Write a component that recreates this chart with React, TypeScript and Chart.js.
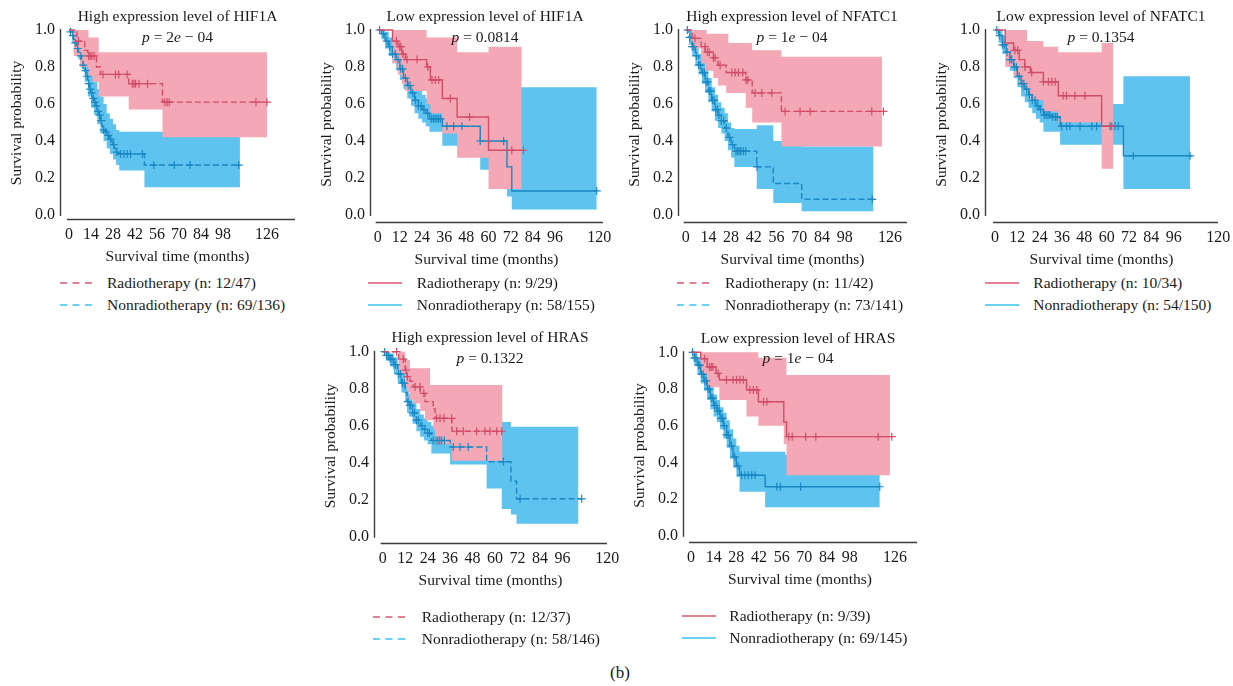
import React, { useEffect, useRef } from 'react';
import { Chart, registerables } from 'chart.js';

Chart.register(...registerables);

// ---------------- Data ----------------
const yTicks = [0, 0.2, 0.4, 0.6, 0.8, 1.0];
const xTicks14 = [0, 14, 28, 42, 56, 70, 84, 98, 126];
const xTicks12 = [0, 12, 24, 36, 48, 60, 72, 84, 96, 120];

const titles = [
  'High expression level of HIF1A',
  'Low expression level of HIF1A',
  'High expression level of NFATC1',
  'Low expression level of NFATC1',
  'High expression level of HRAS',
  'Low expression level of HRAS',
];
const pValues = ['2e − 04', '0.0814', '1e − 04', '0.1354', '0.1322', '1e − 04'];
const radioLabels = [
  'Radiotherapy (n: 12/47)',
  'Radiotherapy (n: 9/29)',
  'Radiotherapy (n: 11/42)',
  'Radiotherapy (n: 10/34)',
  'Radiotherapy (n: 12/37)',
  'Radiotherapy (n: 9/39)',
];
const nonRadioLabels = [
  'Nonradiotherapy (n: 69/136)',
  'Nonradiotherapy (n: 58/155)',
  'Nonradiotherapy (n: 73/141)',
  'Nonradiotherapy (n: 54/150)',
  'Nonradiotherapy (n: 58/146)',
  'Nonradiotherapy (n: 69/145)',
];
const dashedPanels = [true, false, true, false, true, false];

// Panel 1: High HIF1A
const p1RedT = [0, 5, 10, 12, 17.5, 20, 38, 59.5, 126];
const p1RedS = [1, 0.94, 0.89, 0.86, 0.8, 0.76, 0.71, 0.61, 0.61];
const p1RedCens = [6, 12.5, 13.5, 14.6, 16, 21.6, 29.6, 31.7, 37, 40.3, 41.4, 42.4, 44.6, 50, 61, 62.5, 63.8, 119, 126];
const p1RedBandT = [0, 3, 7, 12.4, 15, 18.9, 38, 59.5, 126];
const p1RedBandHi = [1, 1, 1, 0.96, 0.96, 0.88, 0.88, 0.88, 0.88];
const p1RedBandLo = [1, 0.86, 0.8, 0.75, 0.72, 0.64, 0.57, 0.42, 0.42];
const p1BlueT = [0, 1, 2, 3, 4, 5, 6, 7, 8, 9, 10, 11, 12, 13, 14, 15, 16, 17, 18, 19, 20, 21, 22, 23, 24, 25, 26, 27, 28, 29, 30, 31, 48, 108.8];
const p1BlueS = [1, 0.99, 0.97, 0.95, 0.93, 0.9, 0.88, 0.86, 0.83, 0.81, 0.78, 0.75, 0.71, 0.68, 0.66, 0.63, 0.61, 0.59, 0.56, 0.54, 0.51, 0.48, 0.46, 0.45, 0.44, 0.43, 0.41, 0.4, 0.38, 0.36, 0.34, 0.33, 0.27, 0.27];
const p1BlueCens = [1, 2.5, 4, 5.5, 7.5, 9, 10.5, 11.5, 12.5, 13.5, 14.5, 15.5, 16.5, 17.5, 18.5, 19.5, 20.5, 22, 23.5, 25, 26.5, 28.5, 30.5, 32.8, 35, 37, 39.2, 46.7, 54, 67, 77, 108];
const p1BlueBandT = [0, 2, 4, 6, 8, 10, 12, 14, 16, 18, 20, 22, 24, 26, 28, 30, 32, 48, 108.8];
const p1BlueBandHi = [1, 1, 0.97, 0.94, 0.9, 0.86, 0.8, 0.76, 0.72, 0.68, 0.64, 0.6, 0.55, 0.52, 0.49, 0.46, 0.45, 0.45, 0.45];
const p1BlueBandLo = [1, 0.93, 0.89, 0.84, 0.79, 0.72, 0.64, 0.58, 0.54, 0.49, 0.44, 0.4, 0.36, 0.33, 0.3, 0.27, 0.24, 0.15, 0.15];

// Panel 2: Low HIF1A
const p2RedT = [0, 8, 11, 13, 15, 26.5, 28.5, 35, 43, 60, 79];
const p2RedS = [1, 0.94, 0.91, 0.87, 0.84, 0.8, 0.73, 0.63, 0.53, 0.35, 0.35];
const p2RedCens = [10.1, 11.9, 12.6, 13.7, 15.9, 21.3, 27.1, 29.4, 31.2, 33, 39.3, 49.7, 72.6, 78.9];
const p2RedBandT = [0, 8, 11, 13, 15, 26.5, 28.5, 35, 43, 60, 78];
const p2RedBandHi = [1, 1, 1, 1, 1, 0.96, 0.96, 0.96, 0.88, 0.91, 0.91];
const p2RedBandLo = [1, 0.82, 0.76, 0.71, 0.67, 0.6, 0.55, 0.44, 0.31, 0.14, 0.14];
const p2BlueT = [0, 2, 4, 6, 8, 10, 12, 14, 16, 18, 20, 22, 24, 26, 28, 35, 55.5, 70, 72.6, 118.6];
const p2BlueS = [1, 0.98, 0.94, 0.91, 0.87, 0.84, 0.79, 0.74, 0.7, 0.66, 0.62, 0.59, 0.57, 0.55, 0.52, 0.48, 0.4, 0.26, 0.13, 0.13];
const p2BlueCens = [1, 3, 5, 6.5, 8, 9.5, 11, 12.5, 13.5, 15, 16.5, 17.5, 19, 20.5, 22, 23.5, 25, 27, 29, 30, 31, 32, 33, 34, 37.5, 41.1, 45.6, 55.5, 68.2, 118.6];
const p2BlueBandT = [0, 2, 4, 6, 8, 10, 12, 14, 16, 18, 20, 22, 24, 26, 28, 35, 55.5, 70, 72.6, 118.6];
const p2BlueBandHi = [1, 1, 0.99, 0.96, 0.93, 0.9, 0.86, 0.81, 0.77, 0.73, 0.7, 0.67, 0.65, 0.63, 0.61, 0.58, 0.55, 0.5, 0.69, 0.69];
const p2BlueBandLo = [1, 0.95, 0.9, 0.86, 0.82, 0.78, 0.73, 0.68, 0.63, 0.59, 0.55, 0.52, 0.5, 0.48, 0.45, 0.375, 0.245, 0.1, 0.03, 0.03];

// Panel 3: High NFATC1
const p3RedT = [0, 4, 9.5, 12, 17, 20, 25, 37, 41, 59, 122];
const p3RedS = [1, 0.955, 0.91, 0.88, 0.85, 0.81, 0.77, 0.73, 0.66, 0.56, 0.56];
const p3RedCens = [5.7, 11.9, 13.4, 14.6, 17.1, 18.1, 21.2, 28.4, 30.5, 32.5, 35.2, 37.2, 38.3, 42.8, 46.9, 53.1, 61.3, 70.5, 76.7, 114.7, 121.9];
const p3RedBandT = [0, 4, 9.5, 12, 13, 17, 20, 25, 26.3, 37, 41, 59, 121];
const p3RedBandHi = [1, 1, 1, 1, 0.98, 0.98, 0.98, 0.98, 0.93, 0.93, 0.89, 0.855, 0.855];
const p3RedBandLo = [1, 0.9, 0.82, 0.78, 0.78, 0.74, 0.7, 0.66, 0.66, 0.58, 0.5, 0.37, 0.37];
const p3BlueT = [0, 2, 4, 6, 8, 10, 12, 14, 16, 18, 20, 22, 24, 26, 28, 30, 43.8, 54, 71.5, 115.8];
const p3BlueS = [1, 0.96, 0.91, 0.86, 0.81, 0.77, 0.72, 0.67, 0.62, 0.57, 0.54, 0.51, 0.47, 0.42, 0.38, 0.345, 0.26, 0.17, 0.085, 0.085];
const p3BlueCens = [1, 2.5, 4, 5, 6.5, 8, 9, 10.5, 11.5, 12.5, 13.5, 14.5, 15.5, 16.5, 17.5, 18.5, 19.5, 20.5, 22, 23.5, 25, 27, 29, 31, 32, 33, 34, 35.5, 37, 44, 115];
const p3BlueBandT = [0, 2, 4, 6, 8, 10, 12, 14, 16, 18, 20, 22, 24, 26, 28, 30, 43.8, 54, 71.5, 115.8];
const p3BlueBandHi = [1, 1, 0.96, 0.92, 0.87, 0.83, 0.79, 0.74, 0.69, 0.65, 0.61, 0.58, 0.55, 0.5, 0.47, 0.465, 0.485, 0.4, 0.37, 0.37];
const p3BlueBandLo = [1, 0.92, 0.86, 0.81, 0.76, 0.71, 0.66, 0.61, 0.56, 0.51, 0.47, 0.44, 0.4, 0.35, 0.31, 0.26, 0.14, 0.065, 0.02, 0.02];

// Panel 4: Low NFATC1
const p4RedT = [0, 5.5, 10, 13, 16, 19, 26, 34, 57.3, 63.6];
const p4RedS = [1, 0.93, 0.89, 0.84, 0.8, 0.77, 0.72, 0.645, 0.48, 0.48];
const p4RedCens = [10.7, 12.2, 16.1, 19.7, 26, 28.7, 30.5, 32.3, 36.6, 38.4, 42.9, 48.3, 62.7];
const p4RedBandT = [0, 5.5, 10, 13, 16, 17.2, 19, 26, 34, 57.3, 63.6];
const p4RedBandHi = [1, 1, 1, 1, 1, 0.94, 0.94, 0.91, 0.88, 0.93, 0.93];
const p4RedBandLo = [1, 0.8, 0.75, 0.7, 0.66, 0.66, 0.62, 0.56, 0.5, 0.25, 0.25];
const p4BlueT = [0, 2, 4, 6, 8, 10, 12, 14, 16, 18, 20, 22, 24, 26, 30, 35, 69, 105.7];
const p4BlueS = [1, 0.97, 0.92, 0.88, 0.84, 0.8, 0.75, 0.71, 0.68, 0.65, 0.62, 0.59, 0.57, 0.54, 0.53, 0.48, 0.32, 0.32];
const p4BlueCens = [1, 2.5, 4, 5, 6.5, 8, 9, 10.5, 11.5, 13, 14.5, 15.5, 17, 18.5, 20, 21.5, 23, 24.5, 26.5, 27.5, 28.5, 29.5, 31, 32.5, 33.5, 35.8, 38.5, 40.3, 45.7, 52, 54.6, 61.8, 64.5, 66.3, 74.3, 104.8];
const p4BlueBandT = [0, 2, 4, 6, 8, 10, 12, 14, 16, 18, 20, 22, 24, 26, 30, 35, 69, 104.8];
const p4BlueBandHi = [1, 1, 0.97, 0.93, 0.9, 0.86, 0.82, 0.78, 0.75, 0.72, 0.69, 0.67, 0.65, 0.63, 0.62, 0.6, 0.75, 0.75];
const p4BlueBandLo = [1, 0.93, 0.87, 0.83, 0.78, 0.74, 0.69, 0.64, 0.61, 0.58, 0.55, 0.52, 0.5, 0.45, 0.45, 0.38, 0.14, 0.14];

// Panel 5: High HRAS
const p5RedT = [0, 8.5, 12, 13, 14.6, 16.3, 20, 22.6, 27, 28, 37, 64];
const p5RedS = [1, 0.96, 0.9, 0.865, 0.84, 0.81, 0.775, 0.73, 0.69, 0.64, 0.57, 0.57];
const p5RedCens = [7.4, 11, 12.4, 13.2, 17.3, 19.9, 22, 28.8, 30.6, 32.7, 36.8, 39.5, 43.1, 50.2, 54.6, 57.3, 60.9, 63.6];
const p5RedBandT = [0, 8.5, 12, 13, 14.6, 16.3, 20, 22.6, 25.3, 27, 28, 37, 64];
const p5RedBandHi = [1, 1, 0.955, 0.955, 0.91, 0.91, 0.91, 0.91, 0.82, 0.82, 0.82, 0.82, 0.82];
const p5RedBandLo = [1, 0.88, 0.81, 0.78, 0.74, 0.72, 0.68, 0.63, 0.63, 0.58, 0.5, 0.41, 0.41];
const p5BlueT = [0, 2, 4, 6, 8, 10, 12, 13, 14, 16, 18, 20, 22, 24, 26, 36, 55.5, 68.5, 71.5, 106.3];
const p5BlueS = [1, 0.98, 0.96, 0.93, 0.88, 0.83, 0.78, 0.73, 0.71, 0.67, 0.63, 0.6, 0.58, 0.56, 0.52, 0.485, 0.405, 0.3, 0.205, 0.205];
const p5BlueCens = [1, 2, 3, 4, 5, 6, 7, 8.5, 9.5, 10.5, 11.5, 13.5, 14.5, 15, 16, 17, 18, 19, 21, 22.5, 24, 25, 27, 28.5, 29.5, 30.5, 31.5, 33, 37.7, 41.3, 45.7, 64.5, 73.4, 106.3];
const p5BlueBandT = [0, 2, 4, 6, 8, 10, 12, 13, 14, 16, 18, 20, 22, 24, 26, 36, 55.5, 63.6, 68.5, 71.5, 104.6];
const p5BlueBandHi = [1, 1, 0.99, 0.97, 0.93, 0.88, 0.83, 0.79, 0.77, 0.73, 0.69, 0.66, 0.64, 0.62, 0.6, 0.56, 0.62, 0.62, 0.595, 0.595, 0.595];
const p5BlueBandLo = [1, 0.95, 0.92, 0.88, 0.83, 0.78, 0.73, 0.67, 0.65, 0.61, 0.57, 0.54, 0.52, 0.5, 0.45, 0.39, 0.26, 0.15, 0.12, 0.07, 0.07];

// Panel 6: Low HRAS
const p6RedT = [0, 6, 10, 15.5, 17.5, 34.3, 41.6, 57.3, 59, 124];
const p6RedS = [1, 0.965, 0.92, 0.885, 0.85, 0.795, 0.73, 0.62, 0.54, 0.54];
const p6RedCens = [8.3, 11.4, 12.5, 13.5, 16.7, 21.9, 26, 28.1, 30.2, 32.3, 36.4, 38.5, 40.6, 44.8, 46.9, 60.4, 62.5, 70.8, 77.1, 115.6, 124];
const p6RedBandT = [0, 6, 10, 17.5, 34.3, 41.6, 57.3, 59, 122.9];
const p6RedBandHi = [1, 1, 1, 1, 1, 0.97, 0.97, 0.876, 0.876];
const p6RedBandLo = [1, 0.88, 0.81, 0.74, 0.65, 0.6, 0.5, 0.33, 0.33];
const p6BlueT = [0, 2, 4, 6, 8, 10, 12, 14, 16, 18, 20, 22, 24, 26, 28, 30, 45.8, 116.6];
const p6BlueS = [1, 0.97, 0.93, 0.88, 0.845, 0.8, 0.75, 0.71, 0.68, 0.64, 0.6, 0.55, 0.49, 0.43, 0.38, 0.33, 0.267, 0.267];
const p6BlueCens = [1, 2, 3, 4.5, 5.5, 6.5, 7.5, 8.5, 9.5, 10.5, 11.5, 12.5, 13.5, 14.5, 15.5, 16.5, 17.5, 18.5, 19.5, 20.5, 22, 23, 25, 27, 29, 31.2, 33.3, 35.4, 37.5, 39.6, 53, 55.2, 67.7, 116.6];
const p6BlueBandT = [0, 2, 4, 6, 8, 10, 12, 14, 16, 18, 20, 22, 24, 26, 28, 30, 45.8, 58.3, 116.6];
const p6BlueBandHi = [1, 1, 0.97, 0.93, 0.9, 0.86, 0.81, 0.77, 0.74, 0.7, 0.67, 0.63, 0.58, 0.53, 0.49, 0.458, 0.458, 0.44, 0.44];
const p6BlueBandLo = [1, 0.93, 0.88, 0.83, 0.79, 0.74, 0.69, 0.65, 0.62, 0.58, 0.53, 0.48, 0.42, 0.37, 0.32, 0.24, 0.155, 0.155, 0.155];

// ---------------- Styles ----------------
const FONT = '"Liberation Serif", "Times New Roman", serif';
const TEXT = '#1a1a1a';
const RED_LINE = '#d24d68';
const BLUE_LINE = '#1a88c2';
const PINK_FILL = '#f4a7b4';
const BLUE_FILL = '#5ec3ee';
const LEG_RED = '#d9586f';
const LEG_BLUE = '#36c4f2';
const AXIS = '#3c3c3c';

type Series = { t: number[]; s: number[]; cens: number[]; bt: number[]; hi: number[]; lo: number[] };
type Layout = {
  yAxisX: number; t0X: number; s: number; xEndX: number; y1: number; y0: number; xAxisY: number;
  titleX: number; titleY: number; pY: number; legLineX: number; legTextX: number; legY: number[]; xTicks: number[];
};

const seriesRed: Series[] = [
  { t: p1RedT, s: p1RedS, cens: p1RedCens, bt: p1RedBandT, hi: p1RedBandHi, lo: p1RedBandLo },
  { t: p2RedT, s: p2RedS, cens: p2RedCens, bt: p2RedBandT, hi: p2RedBandHi, lo: p2RedBandLo },
  { t: p3RedT, s: p3RedS, cens: p3RedCens, bt: p3RedBandT, hi: p3RedBandHi, lo: p3RedBandLo },
  { t: p4RedT, s: p4RedS, cens: p4RedCens, bt: p4RedBandT, hi: p4RedBandHi, lo: p4RedBandLo },
  { t: p5RedT, s: p5RedS, cens: p5RedCens, bt: p5RedBandT, hi: p5RedBandHi, lo: p5RedBandLo },
  { t: p6RedT, s: p6RedS, cens: p6RedCens, bt: p6RedBandT, hi: p6RedBandHi, lo: p6RedBandLo },
];
const seriesBlue: Series[] = [
  { t: p1BlueT, s: p1BlueS, cens: p1BlueCens, bt: p1BlueBandT, hi: p1BlueBandHi, lo: p1BlueBandLo },
  { t: p2BlueT, s: p2BlueS, cens: p2BlueCens, bt: p2BlueBandT, hi: p2BlueBandHi, lo: p2BlueBandLo },
  { t: p3BlueT, s: p3BlueS, cens: p3BlueCens, bt: p3BlueBandT, hi: p3BlueBandHi, lo: p3BlueBandLo },
  { t: p4BlueT, s: p4BlueS, cens: p4BlueCens, bt: p4BlueBandT, hi: p4BlueBandHi, lo: p4BlueBandLo },
  { t: p5BlueT, s: p5BlueS, cens: p5BlueCens, bt: p5BlueBandT, hi: p5BlueBandHi, lo: p5BlueBandLo },
  { t: p6BlueT, s: p6BlueS, cens: p6BlueCens, bt: p6BlueBandT, hi: p6BlueBandHi, lo: p6BlueBandLo },
];

const layouts: Layout[] = [
  { yAxisX: 60, t0X: 69, s: 1.571, xEndX: 295, y1: 30, y0: 215, xAxisY: 220, titleX: 177.5, titleY: 15.5, pY: 36.5, legLineX: 60, legTextX: 107, legY: [283, 305], xTicks: xTicks14 },
  { yAxisX: 370, t0X: 377.7, s: 1.847, xEndX: 602.7, y1: 30, y0: 215, xAxisY: 222.7, titleX: 485, titleY: 15.5, pY: 36.5, legLineX: 368.3, legTextX: 416.7, legY: [283, 305], xTicks: xTicks12 },
  { yAxisX: 678.3, t0X: 685.7, s: 1.622, xEndX: 906.7, y1: 30, y0: 215, xAxisY: 222.7, titleX: 792, titleY: 15.5, pY: 36.5, legLineX: 676.7, legTextX: 725, legY: [283, 305], xTicks: xTicks14 },
  { yAxisX: 985, t0X: 995, s: 1.861, xEndX: 1218.3, y1: 30, y0: 215, xAxisY: 223, titleX: 1101, titleY: 15.5, pY: 36.5, legLineX: 985, legTextX: 1033.3, legY: [283, 305], xTicks: xTicks12 },
  { yAxisX: 374.3, t0X: 382.7, s: 1.872, xEndX: 607.3, y1: 351.7, y0: 536.7, xAxisY: 544, titleX: 490, titleY: 337, pY: 357.5, legLineX: 373.3, legTextX: 421.7, legY: [616.7, 639.3], xTicks: xTicks12 },
  { yAxisX: 682.7, t0X: 691, s: 1.619, xEndX: 916.7, y1: 352.3, y0: 535.7, xAxisY: 542.7, titleX: 798, titleY: 337.5, pY: 357.5, legLineX: 681.7, legTextX: 729.3, legY: [616, 638], xTicks: xTicks14 },
];

const pts = (t: number[], v: number[]) => t.map((x, i) => ({ x, y: v[i] }));
const survAt = (t: number[], v: number[], x: number) => {
  let y = v[0];
  for (let i = 0; i < t.length; i++) if (t[i] <= x) y = v[i];
  return y;
};

const Y_W = 52;
const X_H = 48;
const PAD_TOP = 20;
const PAD_RIGHT = 24;

function geometry(L: Layout) {
  const cl = Math.round(L.yAxisX - Y_W);
  const plotL = cl + Y_W;
  const ct = Math.round(L.y1 - 4 - PAD_TOP);
  const plotT = ct + PAD_TOP;
  const cw = Math.round(L.xEndX + PAD_RIGHT - cl);
  const plotR = cl + cw - PAD_RIGHT;
  const ch = Math.round(L.xAxisY + X_H - ct);
  const plotB = ct + ch - X_H;
  const span = L.y0 - L.y1;
  return {
    cl, ct, cw, ch,
    xmin: (plotL - L.t0X) / L.s,
    xmax: (plotR - L.t0X) / L.s,
    ymax: 1 + (L.y1 - plotT) / span,
    ymin: -(plotB - L.y0) / span,
  };
}

const axisLinesPlugin = {
  id: 'kmAxisLines',
  afterDatasetsDraw(chart: any) {
    const { ctx, chartArea, scales } = chart;
    const xs = scales.x;
    const ys = scales.y;
    ctx.save();
    ctx.strokeStyle = AXIS;
    ctx.lineWidth = 1.4;
    ctx.beginPath();
    ctx.moveTo(chartArea.left + 0.5, ys.getPixelForValue(1) - 1);
    ctx.lineTo(chartArea.left + 0.5, ys.getPixelForValue(0) + 1);
    ctx.moveTo(xs.getPixelForValue(0) - 2, chartArea.bottom - 0.5);
    ctx.lineTo(chartArea.right, chartArea.bottom - 0.5);
    ctx.stroke();
    ctx.restore();
  },
};

function KMPanel({ idx }: { idx: number }) {
  const ref = useRef<HTMLCanvasElement>(null);
  const L = layouts[idx];
  const g = geometry(L);

  useEffect(() => {
    const red = seriesRed[idx];
    const blue = seriesBlue[idx];
    const dash = dashedPanels[idx] ? [6, 3] : [];
    const band = (d: number[], t: number[], color: string, fill: any, order: number) => ({
      data: pts(t, d),
      stepped: 'before',
      borderColor: 'rgba(0,0,0,0)',
      borderWidth: 0,
      pointRadius: 0,
      fill,
      backgroundColor: color,
      order,
    });
    const curve = (sr: Series, color: string, order: number) => ({
      data: pts(sr.t, sr.s),
      stepped: 'before',
      borderColor: color,
      borderWidth: 1.4,
      borderDash: dash,
      pointRadius: 0,
      fill: false,
      order,
    });
    const cens = (sr: Series, color: string, order: number) => ({
      data: sr.cens.map((c) => ({ x: c, y: survAt(sr.t, sr.s, c) })),
      showLine: false,
      pointStyle: 'cross',
      pointRadius: 4,
      pointBorderWidth: 1.2,
      pointBorderColor: color,
      pointBackgroundColor: color,
      borderColor: color,
      fill: false,
      order,
    });

    const chart = new Chart(ref.current as HTMLCanvasElement, {
      type: 'line',
      data: {
        datasets: [
          band(red.hi, red.bt, PINK_FILL, '+1', 5),
          band(red.lo, red.bt, PINK_FILL, false, 5),
          band(blue.hi, blue.bt, BLUE_FILL, '+1', 6),
          band(blue.lo, blue.bt, BLUE_FILL, false, 6),
          curve(blue, BLUE_LINE, 2),
          curve(red, RED_LINE, 1),
          cens(blue, BLUE_LINE, 2),
          cens(red, RED_LINE, 1),
        ] as any,
      },
      options: {
        animation: false,
        responsive: false,
        devicePixelRatio: 1,
        events: [],
        layout: { padding: { top: PAD_TOP, right: PAD_RIGHT, bottom: 0, left: 0 } },
        plugins: { legend: { display: false }, tooltip: { enabled: false }, title: { display: false } },
        scales: {
          x: {
            type: 'linear',
            min: g.xmin,
            max: g.xmax,
            grid: { display: false, drawTicks: false },
            border: { display: false },
            ticks: {
              autoSkip: false,
              maxRotation: 0,
              padding: 5,
              color: TEXT,
              font: { family: FONT, size: 16 },
              callback: (v: any) => String(v),
            },
            title: {
              display: true,
              text: 'Survival time (months)',
              color: TEXT,
              font: { family: FONT, size: 15.5 },
              padding: { top: 0, bottom: 2 },
            },
            afterBuildTicks: (axis: any) => {
              axis.ticks = L.xTicks.map((v) => ({ value: v }));
            },
            afterFit: (axis: any) => {
              axis.height = X_H;
            },
          },
          y: {
            type: 'linear',
            min: g.ymin,
            max: g.ymax,
            grid: { display: false, drawTicks: false },
            border: { display: false },
            ticks: {
              padding: 5,
              color: TEXT,
              font: { family: FONT, size: 16 },
              callback: (v: any) => Number(v).toFixed(1),
            },
            title: {
              display: true,
              text: 'Survival probability',
              color: TEXT,
              font: { family: FONT, size: 15.5 },
              padding: { top: 0, bottom: 0 },
            },
            afterBuildTicks: (axis: any) => {
              axis.ticks = yTicks.map((v) => ({ value: v }));
            },
            afterFit: (axis: any) => {
              axis.width = Y_W;
            },
          },
        },
      } as any,
      plugins: [axisLinesPlugin],
    });
    return () => chart.destroy();
  }, [idx]);

  const pv = pValues[idx];
  const pParts = pv.split('e');
  const textStyle: React.CSSProperties = {
    position: 'absolute',
    fontFamily: FONT,
    fontSize: 15.5,
    lineHeight: '18px',
    color: TEXT,
    whiteSpace: 'nowrap',
  };
  const dashed = dashedPanels[idx];
  const legendRows = [
    { label: radioLabels[idx], color: LEG_RED, y: L.legY[0] },
    { label: nonRadioLabels[idx], color: LEG_BLUE, y: L.legY[1] },
  ];

  return (
    <>
      <canvas
        ref={ref}
        width={g.cw}
        height={g.ch}
        style={{ position: 'absolute', left: g.cl, top: g.ct, width: g.cw, height: g.ch }}
      />
      <div style={{ ...textStyle, left: L.titleX, top: L.titleY, transform: 'translate(-50%, -50%)' }}>
        {titles[idx]}
      </div>
      <div style={{ ...textStyle, left: L.titleX, top: L.pY, transform: 'translate(-50%, -50%)' }}>
        <i>p</i> = {pParts.length > 1 ? (<>{pParts[0]}<i>e</i>{pParts[1]}</>) : pv}
      </div>
      {legendRows.map((r, i) => (
        <React.Fragment key={i}>
          <svg
            width={34}
            height={4}
            style={{ position: 'absolute', left: L.legLineX, top: r.y - 2 }}
          >
            <line
              x1={0}
              y1={2}
              x2={34}
              y2={2}
              stroke={r.color}
              strokeWidth={1.5}
              strokeDasharray={dashed ? '7 5.5' : undefined}
            />
          </svg>
          <div style={{ ...textStyle, left: L.legTextX, top: r.y - 9 }}>{r.label}</div>
        </React.Fragment>
      ))}
    </>
  );
}

export default function App() {
  return (
    <div
      style={{
        position: 'fixed',
        left: 0,
        top: 0,
        width: 1233,
        height: 686,
        background: '#ffffff',
        overflow: 'hidden',
      }}
    >
      {layouts.map((_, i) => (
        <KMPanel key={i} idx={i} />
      ))}
      <div
        style={{
          position: 'absolute',
          left: 620,
          top: 673,
          transform: 'translate(-50%, -50%)',
          fontFamily: FONT,
          fontSize: 17,
          color: TEXT,
        }}
      >
        (b)
      </div>
    </div>
  );
}
